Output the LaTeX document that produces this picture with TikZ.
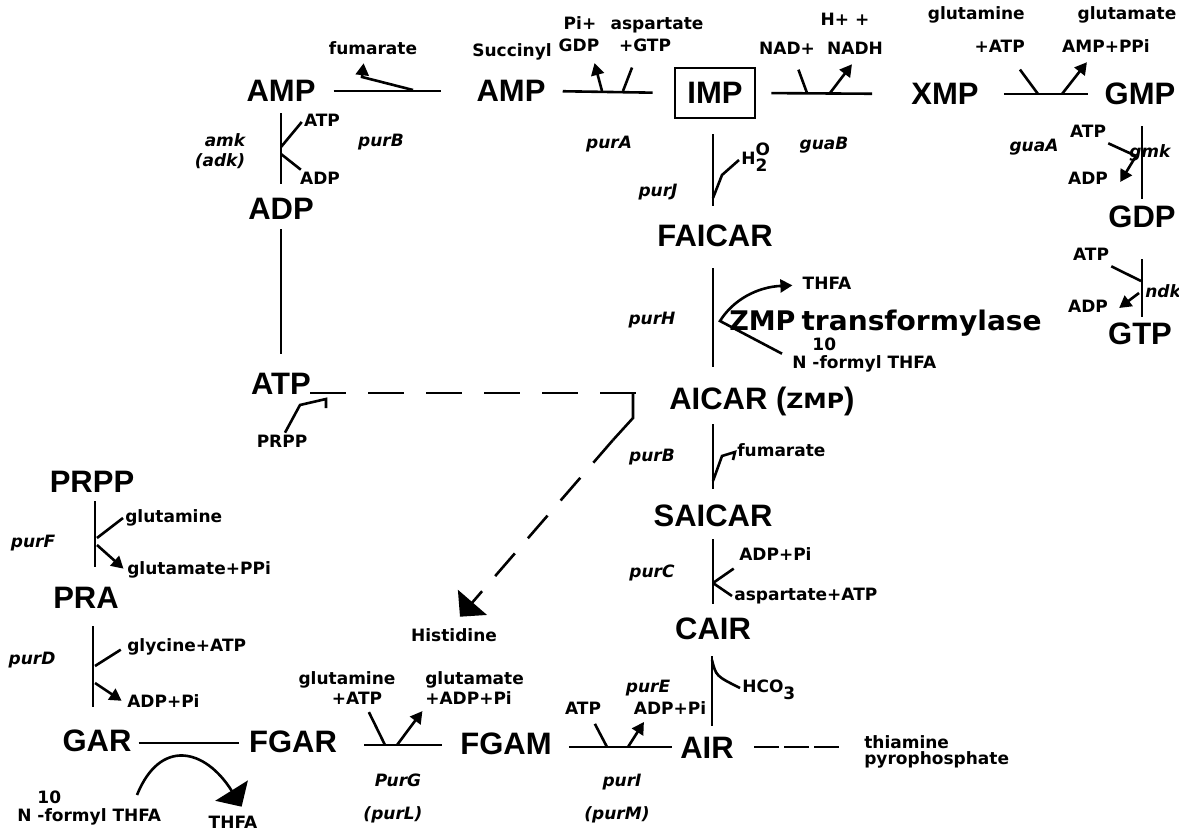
\documentclass[tikz,border=0pt]{standalone}
\usepackage{fontspec}
\usepackage{graphicx}
\setmainfont{DejaVu Sans}
\newfontfamily\helv{Liberation Sans}
\usetikzlibrary{arrows.meta}
\newcommand\bigf{\helv\bfseries\fontsize{31}{31}\selectfont}
\newcommand\smf{\bfseries\fontsize{17}{16}\selectfont}
\newcommand\enzf{\bfseries\itshape\fontsize{17}{17}\selectfont}
\newcommand\wdf{\rmfamily\bfseries\fontsize{27}{27}\selectfont}

\begin{document}
\begin{tikzpicture}[x=1pt,y=-1pt,line width=2.6pt,
big/.style={font=\bigf,inner sep=0pt,text height=22pt,text depth=0pt},
lbl/.style={font=\smf,inner sep=1pt,text height=12.5pt,text depth=3.5pt},
enz/.style={font=\enzf,inner sep=1pt},
arr/.style={-{Triangle[length=12pt,width=13pt]}},
bigarr/.style={-{Triangle[length=19pt,width=38pt]}}]
\useasboundingbox (0,0) rectangle (1179,832);
%%% metabolites
\node[big] (amp1) at (281,91) {AMP};
\node[big] (amp2) at (511,91) {AMP};
\node[big,draw,minimum width=80pt,minimum height=50pt] (imp) at (715,93) {IMP};
\node[big] (xmp) at (945,94) {XMP};
\node[big] (gmp) at (1140,94) {GMP};
\node[big] (gdp) at (1142,217) {GDP};
\node[big] (gtp) at (1140,333) {GTP};
\node[big] (adp) at (281,208) {ADP};
\node[big] (atp) at (281,383) {ATP};
\node[big] (faicar) at (715,235) {FAICAR};
\node[big,anchor=west] (aicar) at (668,398) {AICAR (\raisebox{1pt}{\rmfamily\bfseries\fontsize{21}{21}\selectfont\scalebox{1.12}[1]{ZMP}})};
\node[big] (saicar) at (713,515) {SAICAR};
\node[big] (cair) at (713,628) {CAIR};
\node[big] (air) at (707,747) {AIR};
\node[big] (fgam) at (506,743) {FGAM};
\node[big] (fgar) at (293,741) {FGAR};
\node[big] (gar) at (97,740) {GAR};
\node[big] (pra) at (86,597) {PRA};
\node[big] (prpp) at (92,481) {PRPP};
%%% top labels
\node[lbl] (fuma) at (373,50) {fumarate};
\node[lbl] (succ) at (512,52) {Succinyl};
\node[lbl] (pi1) at (580,25) {Pi+};
\node[lbl] (gdpl) at (579,47) {GDP};
\node[lbl] (asp1) at (657,25) {aspartate};
\node[lbl] (gtp1) at (645,47) {+GTP};
\node[lbl] (nad) at (787,50) {NAD+};
\node[lbl] (hplus) at (845,21) {H+ +};
\node[lbl] (nadh) at (855,50) {NADH};
\node[lbl,anchor=east] (glnx) at (1027,15) {glutamine};
\node[lbl,anchor=east] (atpx) at (1027,48) {+ATP};
\node[lbl] (glux) at (1127,15) {glutamate};
\node[lbl] (amppp) at (1106,48) {AMP+PPi};
\node[lbl] (atpa) at (322,122) {ATP};
\node[lbl] (adpa) at (320,180) {ADP};
\node[enz] (amk) at (225,140) {amk};
\node[enz] (adk) at (220,161) {(adk)};
\node[enz] (purb1) at (381,142) {purB};
\node[enz] (pura) at (609,144) {purA};
\node[enz] (guab) at (824,145) {guaB};
\node[enz] (guaa) at (1034,147) {guaA};
\node[lbl] (atpg) at (1088,133) {ATP};
\node[lbl] (adpg) at (1088,180) {ADP};
\node[enz,anchor=west] (gmk) at (1127,153) {gmk};
\node[lbl] (atph) at (1091,256) {ATP};
\node[lbl] (adph) at (1088,308) {ADP};
\node[enz,anchor=west] (ndk) at (1143,291) {ndk};
%%% middle column labels
\node[lbl,anchor=west] (h2o) at (739,160) {H\rlap{\raisebox{-7pt}{2}}\raisebox{9pt}{O}};
\node[enz] (purj) at (658,192) {purJ};
\node[lbl] (thfa) at (827,285) {THFA};
\node[lbl,anchor=west] (nfor) at (790,364) {N \rlap{\raisebox{18pt}{10}}-formyl THFA};
\node[enz] (purh) at (652,320) {purH};
\node[anchor=west,inner sep=0pt] (zmpt) at (728,323) {\wdf ZMP\hspace{6pt}\scalebox{1.04}[1]{transformylase}};
\node[lbl] (prpp2) at (282,443) {PRPP};
\node[enz] (purb2) at (652,457) {purB};
\node[lbl,anchor=west] (fum2) at (735,452) {fumarate};
\node[enz] (purc) at (652,573) {purC};
\node[lbl,anchor=west] (adppi2) at (737,556) {ADP+Pi};
\node[lbl,anchor=west] (asatp) at (732,596) {aspartate+ATP};
\node[enz] (pure) at (648,688) {purE};
\node[lbl,anchor=west] (hco) at (740,688) {HCO\raisebox{-7pt}{3}};
\node[lbl] (atpm) at (583,710) {ATP};
\node[lbl] (adpm) at (670,710) {ADP+Pi};
\node[enz] (puri) at (622,782) {purI};
\node[enz] (purm) at (617,815) {(purM)};
\node[font=\smf,inner sep=1pt,align=left,anchor=west] (thia) at (862,752) {thiamine\\pyrophosphate};
%%% lower left labels
\node[lbl] (hist) at (454,637) {Histidine};
\node[lbl] (glng) at (347,680) {glutamine};
\node[lbl] (atpg2) at (357,700) {+ATP};
\node[lbl,anchor=west] (glug) at (423,680) {glutamate};
\node[lbl,anchor=west] (adpg2) at (423,700) {+ADP+Pi};
\node[enz] (purg) at (398,780) {PurG};
\node[enz] (purl) at (393,815) {(purL)};
\node[lbl,anchor=west] (glnf) at (123,518) {glutamine};
\node[lbl,anchor=west] (gluppi) at (125,570) {glutamate+PPi};
\node[enz] (purf) at (33,543) {purF};
\node[lbl,anchor=west] (glyatp) at (125,647) {glycine+ATP};
\node[lbl,anchor=west] (adppi) at (125,703) {ADP+Pi};
\node[enz] (purd) at (32,660) {purD};
\node[lbl,anchor=west] (nfor2) at (15,817) {N \rlap{\raisebox{18pt}{10}}-formyl THFA};
\node[lbl] (thfa2) at (233,824) {THFA};
%%% top row
\draw[shorten <=17pt,shorten >=34pt] (amp1.east) -- (amp2.west);
\draw[arr,shorten >=3pt] (413,90) -- (362,77) -- ([xshift=-9pt]fuma.south);
\draw[shorten <=16pt,shorten >=21pt] (amp2.east) -- (imp.west);
\draw[arr,shorten >=6pt] (602,91) -- ([xshift=14pt]gdpl.south);
\draw[shorten >=11pt] (623,91) -- ([xshift=-9pt]gtp1.south);
\draw[shorten <=15pt,shorten >=38pt] (imp.east) -- (xmp.west);
\draw[shorten >=10pt] (807,93) -- ([xshift=8pt]nad.south);
\draw[arr,shorten >=5pt] (830,93) -- (nadh.south);
\draw[shorten <=24pt,shorten >=15pt] (xmp.east) -- (gmp.west);
\draw[shorten >=14pt] (1038,94) -- ([xshift=12pt]atpx.south);
\draw[arr,shorten >=5pt] (1062,94) -- ([xshift=-16pt]amppp.south);
%%% AMP -> ADP -> ATP
\draw[shorten <=10pt,shorten >=12pt] (amp1.south) -- (adp.north);
\draw (281,147) -- (atpa.west);
\draw (281,154) -- ([xshift=3pt]adpa.north west);
\draw[shorten <=9pt,shorten >=17pt] (adp.south) -- (atp.north);
%%% GMP -> GDP -> GTP
\draw[shorten <=20pt,shorten >=6pt] ([xshift=2pt]gmp.south) -- (gdp.north);
\draw (atpg.south east) -- (1136,156);
\draw[arr] (1136,156) -- ([xshift=10pt,yshift=-2pt]adpg.east);
\draw[shorten <=30pt,shorten >=4pt] (gdp.south) -- (gdp.south |- gtp.north);
\draw (atph.south east) -- (1141,281);
\draw[arr] (1139,293) -- ([xshift=9pt]adph.east);
%%% IMP column
\draw[shorten <=15pt,shorten >=17pt] ([xshift=-2pt]imp.south) -- ([xshift=-2pt]faicar.north);
\draw (713,198) -- (722,175) -- (h2o.west);
\draw[shorten <=21pt,shorten >=19pt] ([xshift=-2pt]faicar.south) -- ([xshift=-2pt]faicar.south |- aicar.north);
\draw[arr,shorten >=8pt] ([xshift=-8pt]nfor.north west) -- (720,321) .. controls (733,300) and (757,287) .. (thfa.west);
\draw[shorten <=14pt,shorten >=14pt] (saicar |- aicar.south) -- (saicar.north);
\draw (713,481) -- (722,456) -- (fum2.west) -- ++(-2,8);
\draw[shorten <=12pt,shorten >=12pt] (saicar.south) -- (cair.north);
\draw[shorten >=4pt] (713,583) -- (adppi2.south west);
\draw (713,583) -- (asatp.west);
\draw[shorten <=16pt,shorten >=9pt] ([xshift=-1pt]cair.south) -- ([xshift=-1pt]cair.south |- air.north);
\draw (712,660) .. controls (716,676) .. (hco.west);
%%% bottom row
\draw[shorten <=16pt,shorten >=7pt] ([yshift=-4pt]fgam.east) -- (air.west);
\draw[shorten >=4pt] (607,747) -- ([xshift=10pt]atpm.south);
\draw[arr,shorten >=2pt] (628,747) -- ([xshift=-25pt]adpm.south);
\draw[shorten <=26pt,shorten >=17pt] ([yshift=-4pt]fgar.east) -- ([yshift=-2pt]fgam.west);
\draw[shorten >=2pt] (385,745) -- ([xshift=11pt]atpg2.south);
\draw[arr,shorten >=1pt] (397,745) -- (adpg2.south west);
\draw[shorten <=6pt,shorten >=9pt] ([yshift=-3pt]gar.east) -- ([yshift=-2pt]fgar.west);
\draw[bigarr] (137,795) .. controls (160,738) and (205,748) .. ([xshift=-18pt,yshift=7pt]thfa2.north east);
%%% PRPP -> PRA -> GAR
\draw[shorten <=8pt,shorten >=18pt] ([xshift=3pt]prpp.south) -- ([xshift=3pt]prpp.south |- pra.north);
\draw (97,538) -- (glnf.west);
\draw[arr,shorten >=2pt] (97,545) -- (gluppi.west);
\draw[shorten <=17pt,shorten >=21pt] ([xshift=7pt]pra.south) -- ([xshift=7pt]pra.south |- gar.north);
\draw[shorten >=5pt] (95,666) -- (glyatp.west);
\draw[arr,shorten >=4pt] (95,683) -- (adppi.west);
%%% dashed links
\coordinate (tee) at (633,393);
\draw[dash pattern=on 36pt off 22pt] ([xshift=-2pt,yshift=-10pt]atp.east) -- (647,393);
\draw (tee) -- ++(0,25) -- ++(-20,22);
\draw[bigarr,dash pattern=on 30pt off 20pt] (613,440) -- ([xshift=6pt,yshift=10pt]hist.north);
\draw ([xshift=3pt]prpp2.north) -- (300,405) -- (326,399) -- ++(0,9);
\draw[dash pattern=on 25pt off 5pt,shorten <=19pt,shorten >=22pt] (air.east) -- (air.east -| thia.west);
\end{tikzpicture}
\end{document}
